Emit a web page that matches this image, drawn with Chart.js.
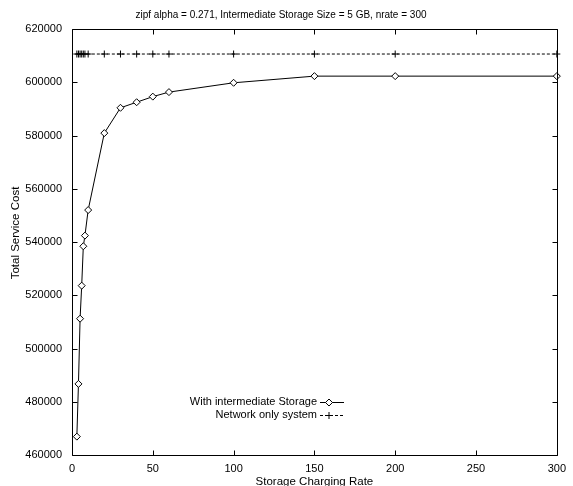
<!DOCTYPE html>
<html>
<head>
<meta charset="utf-8">
<script src="https://cdn.jsdelivr.net/npm/chart.js@4/dist/chart.umd.min.js"></script>
<style>
  body { margin: 0; background: #fff; }
  canvas { display: block; }
</style>
</head>
<body>
<canvas id="chart" width="573" height="486"></canvas>
<script>
const rates = [3, 4, 5, 6, 7, 8, 10, 20, 30, 40, 50, 60, 100, 150, 200, 300];
const withStorage = [466900, 486700, 511200, 523600, 538400, 542400, 552000, 580900,
  590400, 592500, 594600, 596300, 599800, 602300, 602300, 602300];
const networkOnly = [610600, 610600, 610600, 610600, 610600, 610600, 610600, 610600,
  610600, 610600, 610600, 610600, 610600, 610600, 610600, 610600];
const seriesNames = ["With intermediate Storage", "Network only system"];
const yTitle = "Total Service Cost";

const FONT = "'Liberation Sans', Arial, Helvetica, sans-serif";
Chart.defaults.font.family = FONT;
Chart.defaults.font.size = 11;
Chart.defaults.color = "#000";

const toPoints = (ys) => rates.map((r, i) => ({ x: r, y: ys[i] }));

// gnuplot-like frame: box around the plot, inward ticks on all four sides, key inside
const frame = {
  id: "frame",
  afterDatasetsDraw(chart) {
    const { ctx, chartArea: a, scales: { x, y } } = chart;
    ctx.save();
    ctx.strokeStyle = "#000";
    ctx.lineWidth = 1;
    ctx.setLineDash([]);
    const L = Math.round(a.left) + 0.5, R = Math.round(a.right) + 0.5;
    const T = Math.round(a.top) + 0.5, B = Math.round(a.bottom) + 0.5;
    ctx.beginPath();
    ctx.rect(L, T, R - L, B - T);
    x.ticks.forEach(t => {
      const px = Math.round(x.getPixelForValue(t.value)) + 0.5;
      ctx.moveTo(px, B); ctx.lineTo(px, B - 5);
      ctx.moveTo(px, T); ctx.lineTo(px, T + 5);
    });
    y.ticks.forEach(t => {
      const py = Math.round(y.getPixelForValue(t.value)) + 0.5;
      ctx.moveTo(L, py); ctx.lineTo(L + 5, py);
      ctx.moveTo(R, py); ctx.lineTo(R - 5, py);
    });
    ctx.stroke();

    // y axis label, rotated
    ctx.fillStyle = "#000";
    ctx.font = "11.5px " + FONT;
    ctx.textAlign = "center";
    ctx.textBaseline = "middle";
    ctx.save();
    ctx.translate(16, 233);
    ctx.rotate(-Math.PI / 2);
    ctx.fillText(yTitle, 0, 0);
    ctx.restore();

    // key
    ctx.font = "11px " + FONT;
    ctx.textAlign = "right";
    const textRight = 317, x0 = 320, x1 = 344, mx = 329, rows = [402, 415];
    chart.data.datasets.forEach((ds, i) => {
      const yy = rows[i] + 0.5;
      ctx.fillStyle = "#000";
      ctx.fillText(seriesNames[i], textRight, rows[i]);
      ctx.beginPath();
      ctx.setLineDash(ds.borderDash || []);
      ctx.strokeStyle = ds.borderColor;
      ctx.moveTo(x0, yy); ctx.lineTo(x1, yy);
      ctx.stroke();
      ctx.setLineDash([]);
      ctx.fillStyle = "#fff";
      Chart.helpers.drawPoint(ctx, {
        pointStyle: ds.pointStyle, radius: ds.pointRadius, borderWidth: 1
      }, mx, yy);
    });
    ctx.restore();
  }
};

new Chart(document.getElementById("chart"), {
  type: "line",
  data: {
    datasets: [
      {
        label: seriesNames[0],
        data: toPoints(withStorage),
        borderColor: "#000",
        borderWidth: 1,
        pointStyle: "rectRot",
        pointRadius: 3.5,
        pointBorderWidth: 1,
        pointBackgroundColor: "#fff",
        pointBorderColor: "#000",
        tension: 0,
        clip: false
      },
      {
        label: seriesNames[1],
        data: toPoints(networkOnly),
        borderColor: "#000",
        borderWidth: 1,
        borderDash: [3, 2],
        pointStyle: "cross",
        pointRadius: 3.5,
        pointBorderWidth: 1,
        pointBorderColor: "#000",
        tension: 0,
        clip: false
      }
    ]
  },
  options: {
    responsive: false,
    animation: false,
    layout: { padding: { left: 0, right: 11, top: 0, bottom: 0 } },
    plugins: {
      legend: { display: false },
      tooltip: { enabled: false },
      title: {
        display: true,
        text: "zipf alpha = 0.271, Intermediate Storage Size = 5 GB, nrate = 300",
        font: { size: 10, weight: "normal", lineHeight: 1.2 },
        color: "#000",
        padding: { top: 9, bottom: 8 }
      }
    },
    scales: {
      x: {
        type: "linear",
        min: 0,
        max: 300,
        grid: { display: false, drawTicks: false },
        border: { display: false },
        ticks: { stepSize: 50, padding: 7, maxRotation: 0 },
        title: {
          display: true,
          text: "Storage Charging Rate",
          font: { size: 11.5, lineHeight: 0.75 },
          padding: { top: 0, bottom: 0 }
        },
        afterFit: s => { s.height = 31; }
      },
      y: {
        min: 460000,
        max: 620000,
        grid: { display: false, drawTicks: false },
        border: { display: false },
        ticks: { stepSize: 20000, padding: 10, callback: v => String(v) },
        afterFit: s => { s.width = 72; }
      }
    }
  },
  plugins: [frame]
});
</script>
</body>
</html>
